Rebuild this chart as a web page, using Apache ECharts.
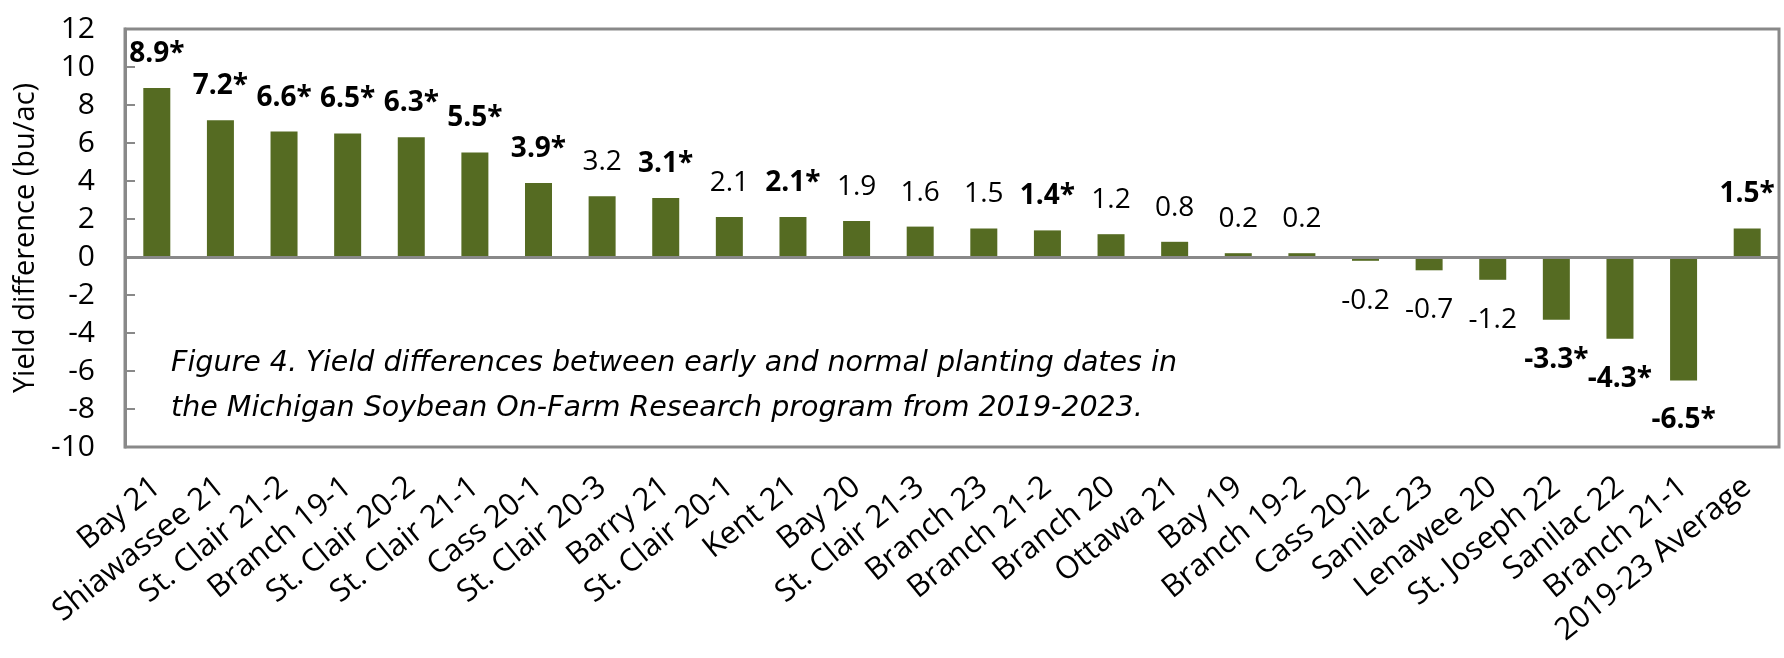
<!DOCTYPE html>
<html>
<head>
<meta charset="utf-8">
<script src="https://cdn.jsdelivr.net/npm/echarts@6/dist/echarts.min.js"></script>
<style>html,body{margin:0;padding:0;background:#fff;}#c{width:1784px;height:658px;}</style>
</head>
<body>
<div id="c"></div>
<script>
const categories = ["Bay 21","Shiawassee 21","St. Clair 21-2","Branch 19-1","St. Clair 20-2","St. Clair 21-1","Cass 20-1","St. Clair 20-3","Barry 21","St. Clair 20-1","Kent 21","Bay 20","St. Clair 21-3","Branch 23","Branch 21-2","Branch 20","Ottawa 21","Bay 19","Branch 19-2","Cass 20-2","Sanilac 23","Lenawee 20","St. Joseph 22","Sanilac 22","Branch 21-1","2019-23 Average"];
const values = [8.9,7.2,6.6,6.5,6.3,5.5,3.9,3.2,3.1,2.1,2.1,1.9,1.6,1.5,1.4,1.2,0.8,0.2,0.2,-0.2,-0.7,-1.2,-3.3,-4.3,-6.5,1.5];
const significant = [1,1,1,1,1,1,1,0,1,0,1,0,0,0,1,0,0,0,0,0,0,0,1,1,1,1];
const yTicks = {min:-10, max:12, interval:2};
const titleLines = ["Figure 4. Yield differences between early and normal planting dates in","the Michigan Soybean On-Farm Research program from 2019-2023."];

const FONT = "Open Sans";
const data = values.map((v,i)=>({
  value: v,
  label: {
    position: v >= 0 ? 'top' : 'bottom',
    distance: v >= 0 ? 20 : 26,
    fontWeight: significant[i] ? 'bold' : 'normal',
    formatter: v.toFixed(1) + (significant[i] ? '*' : '')
  }
}));

const chart = echarts.init(document.getElementById('c'));
chart.setOption({
  animation:false,
  backgroundColor:'#fff',
  title:{
    text: titleLines.join('\n'),
    left:166, top:336,
    textStyle:{fontFamily:"DejaVu Sans", fontStyle:'italic', fontWeight:'normal', fontSize:28.5, lineHeight:45, color:'#000'}
  },
  grid:{left:125, right:5, top:29, bottom:211, show:true, borderColor:'#898989', borderWidth:3, backgroundColor:'transparent'},
  xAxis:{
    type:'category', data:categories,
    axisLine:{show:false, onZero:false},
    axisTick:{show:false},
    axisLabel:{rotate:39, interval:0, margin:36, fontFamily:FONT, fontSize:31, color:'#000'}
  },
  yAxis:{
    type:'value', min:yTicks.min, max:yTicks.max, interval:yTicks.interval,
    name:'Yield difference (bu/ac)', nameLocation:'middle', nameGap:77,
    nameTextStyle:{fontFamily:FONT, fontSize:29, color:'#000'},
    axisLine:{show:true, lineStyle:{color:'#898989', width:3}},
    axisTick:{show:true, inside:true, length:10, lineStyle:{color:'#898989', width:2}},
    splitLine:{show:false},
    axisLabel:{margin:30, fontFamily:FONT, fontSize:30, color:'#000'}
  },
  series:[{
    type:'bar', data:data, barWidth:27,
    itemStyle:{color:'#556B22'},
    label:{show:true, fontFamily:FONT, fontSize:28, color:'#000'},
    markLine:{
      silent:true, symbol:['none','none'],
      label:{show:false},
      lineStyle:{color:'#898989', width:3, type:'solid'},
      data:[{yAxis:0}]
    }
  }]
});
</script>
</body>
</html>
